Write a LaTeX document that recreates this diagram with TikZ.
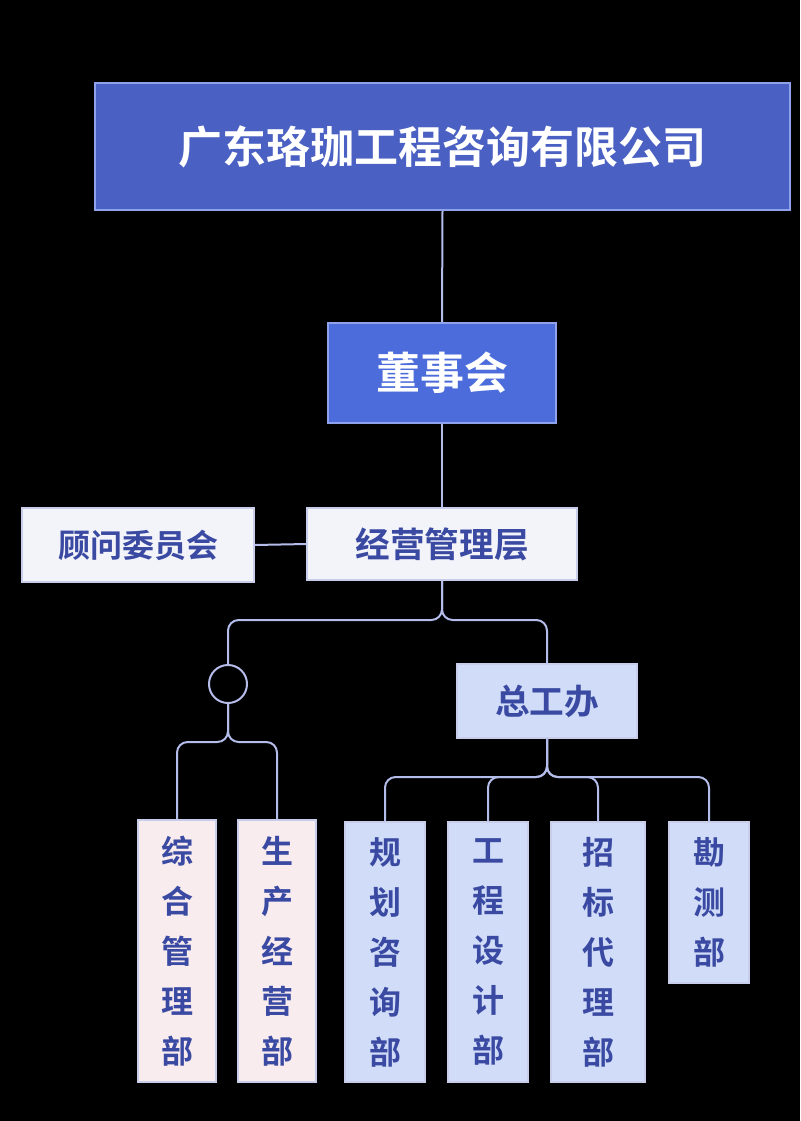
\documentclass[tikz,border=0pt]{standalone}
\usepackage{fontspec}
\newfontfamily\cjk{Noto Sans CJK SC Bold}
\begin{document}
\begin{tikzpicture}[x=0.75pt,y=-0.75pt,
  ln/.style={draw=lnc,line width=1.5pt,rounded corners=8pt},
  top/.style={draw=topb,line width=1.5pt,fill=topf,text=white,font=\cjk\fontsize{33}{36}\selectfont,inner sep=0pt},
  wht/.style={draw=whb,line width=1pt,fill=whf,text=txt,font=\cjk\fontsize{26}{30}\selectfont,inner sep=0pt},
  blu/.style={draw=whb,line width=1pt,fill=bluf,text=txt,font=\cjk\fontsize{24}{37.5}\selectfont,inner sep=0pt,align=center},
  pnk/.style={draw=whb,line width=1pt,fill=pnkf,text=txt,font=\cjk\fontsize{24}{37.5}\selectfont,inner sep=0pt,align=center}]
\definecolor{lnc}{HTML}{B4BCEA}
\definecolor{topb}{HTML}{8FA2EC}
\definecolor{topf}{HTML}{4A60C2}
\definecolor{dsf}{HTML}{4B6CDA}
\definecolor{whb}{HTML}{C8CDEA}
\definecolor{whf}{HTML}{F3F3FA}
\definecolor{txt}{HTML}{3A4AA2}
\definecolor{bluf}{HTML}{D0DCF8}
\definecolor{pnkf}{HTML}{F8ECEE}
\fill[black] (0,0) rectangle (800,1121);
\useasboundingbox (0,0) rectangle (800,1121);
\node[top,minimum width=695*0.75pt,minimum height=127*0.75pt] (co) at (442.5,146.5) {广东珞珈工程咨询有限公司};
\node[top,fill=dsf,minimum width=228*0.75pt,minimum height=100*0.75pt] (ds) at (442,373) {董事会};
\node[wht,minimum width=270*0.75pt,minimum height=72*0.75pt] (jy) at (442,544) {经营管理层};
\node[wht,font=\cjk\fontsize{24}{28}\selectfont,minimum width=232*0.75pt,minimum height=74*0.75pt] (gw) at (138,545) {顾问委员会};
\node[draw=lnc,line width=1.5pt,circle,minimum size=38*0.75pt,inner sep=0pt] (ci) at (228,684) {};
\node[wht,fill=bluf,minimum width=180*0.75pt,minimum height=74*0.75pt] (zg) at (547,701) {总工办};
\node[pnk,minimum width=78*0.75pt,minimum height=262*0.75pt] (zh) at (177,951) {综\\合\\管\\理\\部};
\node[pnk,minimum width=78*0.75pt,minimum height=262*0.75pt] (sc) at (277,951) {生\\产\\经\\营\\部};
\node[blu,minimum width=80*0.75pt,minimum height=260*0.75pt] (gh) at (385,952) {规\\划\\咨\\询\\部};
\node[blu,minimum width=80*0.75pt,minimum height=260*0.75pt] (gc) at (488,952) {工\\程\\设\\计\\部};
\node[blu,minimum width=94*0.75pt,minimum height=260*0.75pt] (zb) at (598,952) {招\\标\\代\\理\\部};
\node[blu,minimum width=80*0.75pt,minimum height=161*0.75pt] (kc) at (709,902.5) {勘\\测\\部};
\draw[ln] (co.south) -- (ds.north);
\draw[ln] (ds.south) -- (jy.north);
\draw[ln] (gw.east) -- (jy.west);
\draw[ln] (jy.south) -- (442,620) -- (228,620) -- (ci.north);
\draw[ln] (jy.south) -- (442,620) -- (547,620) -- (zg.north);
\draw[ln] (ci.south) -- (228,742) -- (177,742) -- (zh.north);
\draw[ln] (ci.south) -- (228,742) -- (277,742) -- (sc.north);
\draw[ln] (zg.south) -- (547,777) -- (385,777) -- (gh.north);
\draw[ln] (zg.south) -- (547,777) -- (488,777) -- (gc.north);
\draw[ln] (zg.south) -- (547,777) -- (598,777) -- (zb.north);
\draw[ln] (zg.south) -- (547,777) -- (709,777) -- (kc.north);
\end{tikzpicture}
\end{document}
